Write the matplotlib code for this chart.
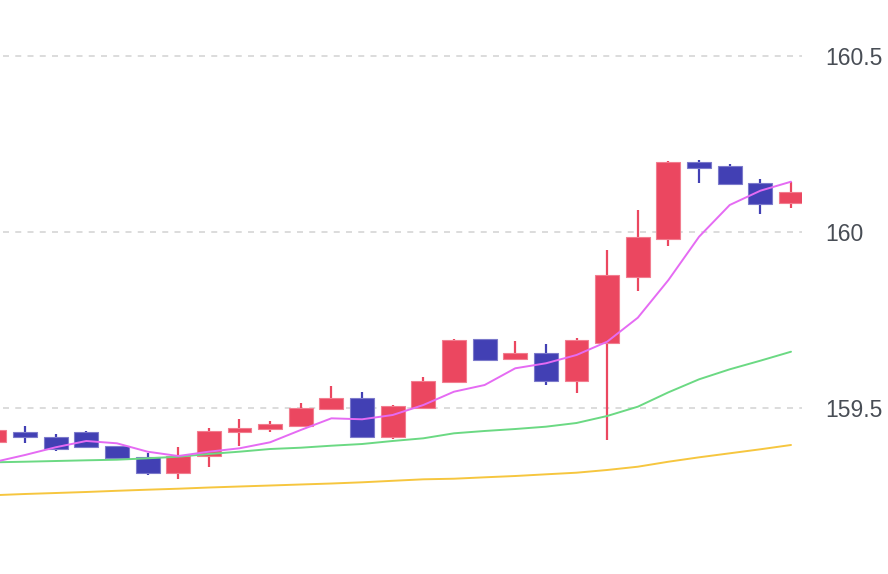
import matplotlib
matplotlib.use("Agg")
import matplotlib.pyplot as plt
import numpy as np

# ---- data ----
opens = [159.403, 159.433, 159.4185, 159.432, 159.392, 159.362, 159.3145, 159.3636, 159.431,
         159.441, 159.4497, 159.497, 159.529, 159.4185, 159.501, 159.573, 159.695, 159.6384,
         159.6554, 159.5776, 159.6855, 159.873, 159.979, 160.1989, 160.1875, 160.140, 160.0824]
highs = [159.445, 159.449, 159.425, 159.4355, 159.392, 159.371, 159.390, 159.444, 159.468,
         159.463, 159.515, 159.5625, 159.546, 159.5085, 159.589, 159.695, 159.697, 159.690,
         159.681, 159.698, 159.949, 160.0625, 160.2026, 160.2045, 160.193, 160.1497, 160.1429]
lows = [159.398, 159.400, 159.378, 159.388, 159.354, 159.3105, 159.297, 159.3316, 159.392,
        159.433, 159.4497, 159.497, 159.414, 159.411, 159.501, 159.570, 159.636, 159.6364,
        159.5653, 159.5418, 159.409, 159.8324, 159.960, 160.138, 160.1355, 160.0511, 160.0673]
closes = [159.4375, 159.417, 159.383, 159.388, 159.357, 159.3145, 159.365, 159.4347, 159.444,
          159.4537, 159.500, 159.5276, 159.4185, 159.5057, 159.5767, 159.693, 159.6364, 159.657,
          159.5767, 159.6932, 159.8778, 159.985, 160.1989, 160.1827, 160.1355, 160.0804, 160.1128]

ma_short = [159.3466, 159.3665, 159.3884, 159.4063, 159.3997, 159.3759, 159.3636, 159.3759,
            159.3855, 159.4026, 159.4375, 159.4707, 159.4679, 159.4801, 159.5085, 159.5463,
            159.5653, 159.6128, 159.6270, 159.6506, 159.6884, 159.7565, 159.8636, 159.9866,
            160.0767, 160.1173, 160.1429]
ma_mid = [159.3457, 159.3474, 159.3494, 159.3514, 159.3531, 159.3571, 159.3616, 159.3693,
          159.3759, 159.3835, 159.3872, 159.3929, 159.3977, 159.4063, 159.4139, 159.4281,
          159.4347, 159.4403, 159.4469, 159.4574, 159.4773, 159.5037, 159.5446, 159.5815,
          159.6099, 159.6344, 159.6599]
ma_long = [159.2523, 159.2557, 159.2585, 159.2614, 159.2648, 159.2679, 159.2707, 159.2741,
           159.2770, 159.2798, 159.2827, 159.2855, 159.2889, 159.2932, 159.2974, 159.2991,
           159.3031, 159.3068, 159.3116, 159.3162, 159.3239, 159.3332, 159.3474, 159.3599,
           159.3713, 159.3827, 159.3949]

y_ticks = [159.5, 160.0, 160.5]
y_tick_labels = ["159.5", "160", "160.5"]

# ---- style ----
UP = "#EB4760"
UP_EDGE = "#F27D8F"
DOWN = "#4240B4"
DOWN_EDGE = "#7C7ACB"
C_SHORT = "#E56BF3"
C_MID = "#6BD983"
C_LONG = "#F6C63F"

fig = plt.figure(figsize=(8.88, 5.74), dpi=100)
ax = fig.add_axes([0, 0, 802 / 888, 1])

x = np.arange(len(opens))
o = np.array(opens); c = np.array(closes); h = np.array(highs); l = np.array(lows)
up = c >= o
colors = np.where(up, UP, DOWN)
edges = np.where(up, UP_EDGE, DOWN_EDGE)

# wicks
ax.vlines(x, l, h, colors=colors, linewidth=1.6, zorder=2)
# bodies
bottom = np.minimum(o, c)
height = np.maximum(np.abs(c - o), 0.004)
ax.bar(x, height, bottom=bottom, width=0.78, color=colors, edgecolor=edges,
       linewidth=0.8, zorder=3)

# moving averages
ax.plot(x, ma_long, color=C_LONG, lw=1.4, zorder=4, solid_capstyle="round")
ax.plot(x, ma_mid, color=C_MID, lw=1.4, zorder=4, solid_capstyle="round")
ax.plot(x, ma_short, color=C_SHORT, lw=1.4, zorder=5, solid_capstyle="round")

# axes geometry
x0, x1 = 1 - 25 / 30.64, 1 + 777 / 30.64
ax.set_xlim(x0, x1)
ax.set_ylim(160 - 342 / 352, 160 + 232 / 352)

# dashed horizontal grid
ax.hlines(y_ticks, 1 + (3.3 - 25) / 30.64, x1, colors="#D6D6D6",
          linestyles=[(0, (3.6, 3.75))], linewidth=1.2, zorder=0)

ax.set_yticks(y_ticks)
ax.set_yticklabels(y_tick_labels)
ax.yaxis.tick_right()
ax.tick_params(axis="y", length=0, pad=17, labelsize=16.5, labelcolor="#484D55")
for lab in ax.get_yticklabels():
    lab.set_fontfamily(["Liberation Sans", "DejaVu Sans"])
ax.set_xticks([])
for s in ax.spines.values():
    s.set_visible(False)
ax.patch.set_alpha(0)

fig.savefig("out.png", dpi=100)
